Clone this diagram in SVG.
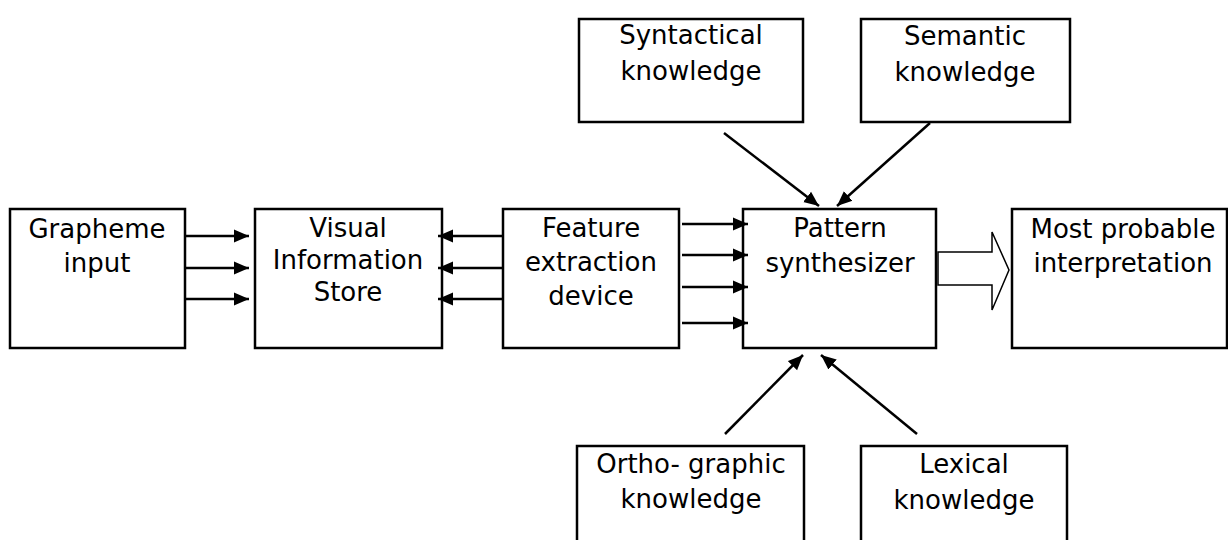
<svg xmlns="http://www.w3.org/2000/svg" width="1228" height="540" viewBox="0 0 1228 540">
<style>
.box{fill:#fff;stroke:#000;stroke-width:2.5}
.t{font-family:"DejaVu Sans","Verdana",sans-serif;font-size:26px;fill:#000;text-anchor:middle}
.c{stroke:#000;stroke-width:2.5;fill:none;marker-end:url(#ah)}
</style>
<defs>
<marker id="ah" markerUnits="userSpaceOnUse" markerWidth="16" markerHeight="14" refX="15" refY="7" orient="auto">
<path d="M0,0.5 L15,7 L0,13.5 z" fill="#000"/>
</marker>
</defs>
<rect width="1228" height="540" fill="#fff"/>
<g id="grapheme">
<rect class="box" x="10" y="209" width="175" height="139"/>
<text class="t" x="97" y="238">Grapheme</text>
<text class="t" x="97" y="272">input</text>
</g>
<g id="visual">
<rect class="box" x="255" y="209" width="187" height="139"/>
<text class="t" x="348" y="237">Visual</text>
<text class="t" x="348" y="269">Information</text>
<text class="t" x="348" y="301">Store</text>
</g>
<g id="feature">
<rect class="box" x="503" y="209" width="176" height="139"/>
<text class="t" x="591" y="237">Feature</text>
<text class="t" x="591" y="271">extraction</text>
<text class="t" x="591" y="305">device</text>
</g>
<g id="pattern">
<rect class="box" x="743" y="209" width="193" height="139"/>
<text class="t" x="840" y="237">Pattern</text>
<text class="t" x="840" y="272">synthesizer</text>
</g>
<g id="interpretation">
<rect class="box" x="1012" y="209" width="215" height="139"/>
<text class="t" x="1123" y="238">Most probable</text>
<text class="t" x="1123" y="272">interpretation</text>
</g>
<g id="syntactical">
<rect class="box" x="579" y="19" width="224" height="103"/>
<text class="t" x="691" y="44">Syntactical</text>
<text class="t" x="691" y="80">knowledge</text>
</g>
<g id="semantic">
<rect class="box" x="861" y="19" width="209" height="103"/>
<text class="t" x="965" y="45">Semantic</text>
<text class="t" x="965" y="81">knowledge</text>
</g>
<g id="orthographic">
<rect class="box" x="577" y="446" width="227" height="110"/>
<text class="t" x="691" y="473">Ortho- graphic</text>
<text class="t" x="691" y="508">knowledge</text>
</g>
<g id="lexical">
<rect class="box" x="861" y="446" width="206" height="110"/>
<text class="t" x="964" y="473">Lexical</text>
<text class="t" x="964" y="509">knowledge</text>
</g>
<g id="connectors">
<line class="c" x1="185" y1="236" x2="249" y2="236"/>
<line class="c" x1="185" y1="268" x2="249" y2="268"/>
<line class="c" x1="185" y1="299" x2="249" y2="299"/>
<line class="c" x1="503" y1="236" x2="438" y2="236"/>
<line class="c" x1="503" y1="268" x2="438" y2="268"/>
<line class="c" x1="503" y1="299" x2="438" y2="299"/>
<line class="c" x1="682" y1="224" x2="748" y2="224"/>
<line class="c" x1="682" y1="255" x2="748" y2="255"/>
<line class="c" x1="682" y1="287" x2="748" y2="287"/>
<line class="c" x1="682" y1="323" x2="748" y2="323"/>
<line class="c" x1="724" y1="133" x2="819" y2="206"/>
<line class="c" x1="930" y1="123" x2="837" y2="206"/>
<line class="c" x1="725" y1="434" x2="803" y2="355"/>
<line class="c" x1="917" y1="434" x2="821" y2="355"/>
<path d="M938,252 L992,252 L992,232 L1009,270 L992,310 L992,285 L938,285 Z" fill="#fff" stroke="#000" stroke-width="1.5"/>
</g>
</svg>
